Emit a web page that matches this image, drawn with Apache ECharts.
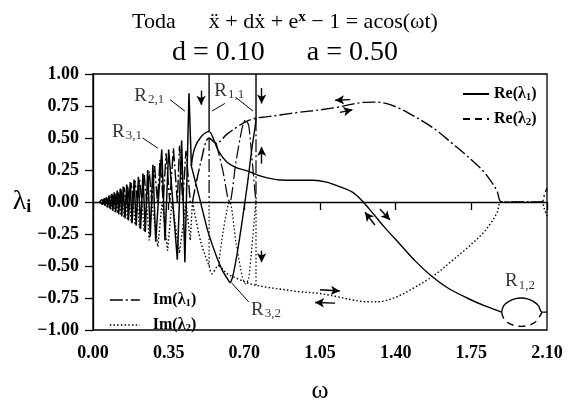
<!DOCTYPE html>
<html><head><meta charset="utf-8">
<script src="https://cdn.jsdelivr.net/npm/echarts@6/dist/echarts.min.js"></script>
<style>html,body{margin:0;padding:0;background:#fff}#c{width:570px;height:409px}</style>
</head><body><div id="c"></div>
<script>
// ---- data (omega, lambda) ----
const reDense = [[0.03,0],[0.038,0.012],[0.044,-0.018],[0.05,0.025],[0.056,-0.03],[0.062,0.038],[0.068,-0.043],[0.074,0.05],[0.08,-0.056],[0.086,0.063],[0.092,-0.069],[0.098,0.076],[0.105,-0.082],[0.112,0.09],[0.119,-0.097],[0.126,0.105],[0.133,-0.112],[0.14,0.12],[0.148,-0.128],[0.156,0.137],[0.164,-0.145],[0.172,0.155],[0.181,-0.165],[0.19,0.175],[0.2,-0.186],[0.21,0.197],[0.22,-0.21],[0.231,0.222],[0.242,-0.235],[0.253,0.25],[0.265,-0.27],[0.277,0.29],[0.29,-0.31],[0.318,0.41],[0.333,-0.3],[0.35,0.41],[0.39,-0.45],[0.41,0.48],[0.425,-0.47],[0.444,0.85],[0.455,0.28]];
const reMain = [[0.455,0.28],[0.47,0.42],[0.5,0.51],[0.537,0.55],[0.56,0.48],[0.58,0.4],[0.62,0.31],[0.66,0.27],[0.71,0.245],[0.78,0.2],[0.865,0.172],[0.95,0.17],[1.02,0.17],[1.08,0.155],[1.14,0.12],[1.2,0.077],[1.25,0.0],[1.3,-0.1],[1.35,-0.2],[1.42,-0.33],[1.49,-0.46],[1.56,-0.57],[1.64,-0.67],[1.73,-0.75],[1.81,-0.81],[1.89,-0.86]];
const reSpike1 = [[0.537,0.55],[0.537,1.0]];
const reBranch = [[0.455,0.28],[0.49,0.05],[0.53,-0.22],[0.57,-0.42],[0.6,-0.54],[0.622,-0.6],[0.634,-0.63],[0.645,-0.59],[0.665,-0.42],[0.69,-0.15],[0.715,0.15],[0.735,0.42],[0.754,0.66],[0.754,1.0]];
const reLoopUp = [[1.89,-0.86],[1.9,-0.81],[1.92,-0.78],[1.95,-0.757],[1.98,-0.75],[2.01,-0.757],[2.04,-0.78],[2.06,-0.81],[2.077,-0.86],[2.1,-0.86]];
const re2LoopLow = [[1.89,-0.86],[1.9,-0.91],[1.92,-0.945],[1.95,-0.965],[1.98,-0.972],[2.01,-0.965],[2.04,-0.945],[2.06,-0.91],[2.077,-0.86]];

const im1Dense = [[0.03,0],[0.041,0.02],[0.047,0],[0.053,0.03],[0.059,0],[0.065,0.04],[0.071,0],[0.077,0.05],[0.083,0],[0.089,0.06],[0.095,0],[0.101,0.07],[0.108,0],[0.115,0.085],[0.122,0],[0.129,0.1],[0.136,0],[0.144,0.115],[0.152,0],[0.16,0.13],[0.168,0],[0.177,0.15],[0.186,0],[0.195,0.165],[0.205,0],[0.215,0.185],[0.226,0],[0.237,0.21],[0.248,0],[0.26,0.24],[0.272,0],[0.285,0.28],[0.298,0],[0.31,0.33],[0.325,0],[0.338,0.38],[0.355,0],[0.372,0.42],[0.39,0],[0.4,0.44],[0.415,0],[0.43,0.4],[0.45,0]];
const im1Upper = [[0.46,0],[0.5,0.32],[0.537,0.5],[0.57,0.46],[0.62,0.53],[0.67,0.59],[0.71,0.63],[0.754,0.655],[0.8,0.665],[0.865,0.68],[0.95,0.7],[1.05,0.72],[1.13,0.74],[1.2,0.765],[1.25,0.778],[1.3,0.78],[1.35,0.772],[1.42,0.73],[1.48,0.675],[1.545,0.61],[1.6,0.545],[1.66,0.46],[1.72,0.375],[1.76,0.315],[1.8,0.25],[1.84,0.165],[1.87,0.08],[1.89,0],[2.077,0],[2.085,0.04],[2.1,0.11]];
const im1Vee = [[0.57,0.46],[0.6,0.25],[0.625,0.02],[0.634,0],[0.66,0.3],[0.69,0.58],[0.705,0.64],[0.72,0.6],[0.735,0.35],[0.748,0.1],[0.754,0]];
const im1Vert1 = [[0.537,0.5],[0.537,0]];
const im1Vert2 = [[0.754,0.655],[0.754,0]];

const im2Dense = [[0.03,0],[0.041,-0.02],[0.047,0],[0.053,-0.03],[0.059,0],[0.065,-0.04],[0.071,0],[0.077,-0.05],[0.083,0],[0.089,-0.06],[0.095,0],[0.101,-0.075],[0.108,0],[0.115,-0.09],[0.122,0],[0.129,-0.105],[0.136,0],[0.144,-0.12],[0.152,0],[0.16,-0.14],[0.168,0],[0.177,-0.16],[0.186,0],[0.195,-0.18],[0.205,0],[0.215,-0.2],[0.226,0],[0.237,-0.23],[0.248,0],[0.26,-0.3],[0.272,0],[0.3,-0.35],[0.32,0],[0.345,-0.38],[0.365,0],[0.4,-0.4],[0.43,0],[0.45,-0.3],[0.46,0]];
const im2Lower = [[0.46,0],[0.5,-0.32],[0.537,-0.5],[0.55,-0.56],[0.58,-0.5],[0.62,-0.56],[0.67,-0.6],[0.71,-0.63],[0.754,-0.65],[0.8,-0.665],[0.865,-0.68],[0.95,-0.7],[1.05,-0.715],[1.13,-0.74],[1.2,-0.765],[1.25,-0.778],[1.3,-0.78],[1.35,-0.772],[1.42,-0.73],[1.48,-0.675],[1.545,-0.61],[1.6,-0.545],[1.66,-0.46],[1.72,-0.375],[1.76,-0.315],[1.8,-0.25],[1.84,-0.165],[1.87,-0.08],[1.89,0],[2.077,0],[2.085,-0.04],[2.1,-0.11]];
const im2Vee = [[0.58,-0.5],[0.6,-0.25],[0.625,-0.02],[0.634,0],[0.66,-0.3],[0.69,-0.58],[0.705,-0.64],[0.72,-0.6],[0.735,-0.35],[0.748,-0.1],[0.754,0]];
const im2Vert1 = [[0.537,-0.5],[0.537,0]];
const im2Vert2 = [[0.754,-0.65],[0.754,0]];

// annotations
const arrows = [[0.5,0.87,0.5,0.76],[0.78,0.89,0.78,0.77],[0.78,0.30,0.78,0.43],[0.78,-0.38,0.78,-0.47],
  [1.19,0.80,1.12,0.795],[1.142,0.70,1.2,0.72],[1.05,-0.685,1.142,-0.695],[1.12,-0.79,1.027,-0.785],
  [1.304,-0.18,1.258,-0.08],[1.327,-0.055,1.374,-0.14]];
const leaders = [[0.23,0.5,0.30,0.42],[0.356,0.8,0.425,0.71],[0.61,0.77,0.55,0.71],[0.666,0.81,0.74,0.71],[0.64,-0.63,0.72,-0.78]];
const resLabels = [[0.157,0.55,'3,1'],[0.26,0.83,'2,1'],[0.63,0.87,'1,1'],[0.8,-0.84,'3,2'],[1.975,-0.62,'1,2']];
const xTicks = {min:0, max:2.1, step:0.35};
const yTicks = {min:-1, max:1, step:0.25};

const SERIF = 'Liberation Serif, DejaVu Serif, serif';
const DASHDOT = [13,3,2,3];
const DOT = [1.5,2.2];
const DASH = [7,5];

function ln(name, data, type, width, smooth){
  return {type:'line', name, data, symbol:'none', smooth: smooth||false, clip:true,
    lineStyle:{color:'#000', width: width||1.2, type}, itemStyle:{color:'#000'}, z:3};
}
const subRich = {
  a:{fontFamily:SERIF, fontSize:16, fontWeight:'bold', color:'#000'},
  s:{fontFamily:SERIF, fontSize:11, fontWeight:'bold', color:'#000', verticalAlign:'bottom', padding:[7,0,0,0]}
};

const series = [
  ln('Re(λ1)', reDense, 'solid', 1.5),
  ln('Re(λ1)', reMain, 'solid', 1.4, 0.35),
  ln('Re(λ1)', reSpike1, 'solid', 1.4),
  ln('Re(λ1)', reBranch, 'solid', 1.4, 0.2),
  ln('Re(λ1)', reLoopUp, 'solid', 1.4, 0.4),
  ln('Re(λ2)', re2LoopLow, DASH, 1.4, 0.4),
  ln('Im(λ1)', im1Dense, DASHDOT, 1.4),
  ln('Im(λ1)', im1Upper, DASHDOT, 1.4, 0.35),
  ln('Im(λ1)', im1Vee, DASHDOT, 1.2, 0.2),
  ln('Im(λ1)', im1Vert1, DASHDOT, 1.2),
  ln('Im(λ1)', im1Vert2, DASHDOT, 1.2),
  ln('Im(λ2)', im2Dense, DOT, 1.4),
  ln('Im(λ2)', im2Lower, DOT, 1.4, 0.35),
  ln('Im(λ2)', im2Vee, DOT, 1.2, 0.2),
  ln('Im(λ2)', im2Vert1, DOT, 1.2),
  ln('Im(λ2)', im2Vert2, DOT, 1.2),
  {type:'line', name:'_ann', data:[], symbol:'none', silent:true,
    markLine:{silent:true, symbol:['none','arrow'], symbolSize:[7,9], animation:false,
      lineStyle:{color:'#000', width:1.4, type:'solid'}, label:{show:false},
      data: arrows.map(a=>[{coord:[a[0],a[1]]},{coord:[a[2],a[3]]}])}},
  {type:'line', name:'_lead', data:[], symbol:'none', silent:true,
    markLine:{silent:true, symbol:['none','none'], animation:false,
      lineStyle:{color:'#000', width:1, type:'solid'}, label:{show:false},
      data: leaders.map(a=>[{coord:[a[0],a[1]]},{coord:[a[2],a[3]]}])}},
  {type:'scatter', name:'_lab', silent:true, symbolSize:1, itemStyle:{color:'rgba(0,0,0,0)'},
    data: resLabels.map(r=>({value:[r[0],r[1]], sub:r[2]})),
    label:{show:true, position:'inside', formatter:p=>'{r|R}{s|'+p.data.sub+'}',
      rich:{r:{fontFamily:SERIF, fontSize:19, color:'#000'},
            s:{fontFamily:SERIF, fontSize:13, color:'#000', verticalAlign:'bottom', padding:[8,0,0,1]}}}}
];

const legendFmt = n => { const m = n.match(/^(.*λ)(\d)\)$/); return '{a|'+m[1]+'}{s|'+m[2]+'}{a|)}'; };
const noSym = {color:'rgba(0,0,0,0)', borderColor:'rgba(0,0,0,0)', borderWidth:0};

const option = {
  animation:false,
  backgroundColor:'#fff',
  title:[
    {text:'{t|Toda      ẍ + dẋ + e}{p|x}{t| − 1 = acos(ωt)}', left:'center', top:5,
      textStyle:{rich:{t:{fontFamily:SERIF, fontSize:22, fontWeight:'normal', color:'#000'},
        p:{fontFamily:SERIF, fontSize:15, fontWeight:'bold', color:'#000', verticalAlign:'top', padding:[0,0,9,0]}}}},
    {text:'d = 0.10      a = 0.50', left:'center', top:34,
      textStyle:{fontFamily:SERIF, fontSize:28, fontWeight:'normal', color:'#000'}}
  ],
  legend:[
    {data:['Re(λ1)','Re(λ2)'], orient:'vertical', left:457, top:81, itemGap:8, itemWidth:26, itemHeight:16,
      formatter:legendFmt, textStyle:{rich:subRich}, itemStyle:noSym, selectedMode:false},
    {data:['Im(λ1)','Im(λ2)'], orient:'vertical', left:104, top:287, itemGap:8, itemWidth:30, itemHeight:16,
      formatter:legendFmt, textStyle:{rich:subRich, padding:[0,0,0,8]}, itemStyle:noSym,
      lineStyle:{width:1.6}, selectedMode:false}
  ],
  grid:{left:93, right:23, top:74, bottom:62, show:true, borderColor:'#000', borderWidth:1.3, backgroundColor:'transparent'},
  xAxis:{type:'value', min:xTicks.min, max:xTicks.max, interval:xTicks.step,
    name:'ω', nameLocation:'middle', nameGap:48, nameTextStyle:{fontFamily:SERIF, fontSize:26, color:'#000'},
    axisLine:{lineStyle:{color:'#000', width:1.3}}, axisTick:{show:true, inside:false, length:8, lineStyle:{color:'#000', width:1.3}},
    splitLine:{show:false},
    axisLabel:{margin:14, fontFamily:SERIF, fontSize:18, fontWeight:'bold', color:'#000', formatter:v=>v.toFixed(2)}},
  yAxis:{type:'value', min:yTicks.min, max:yTicks.max, interval:yTicks.step,
    name:'{a|λ}{b|i}', nameLocation:'middle', nameRotate:0, nameGap:60,
    nameTextStyle:{rich:{a:{fontFamily:SERIF, fontSize:28, color:'#000'}, b:{fontFamily:SERIF, fontSize:18, fontWeight:'bold', color:'#000', verticalAlign:'bottom', padding:[10,0,0,0]}}},
    axisLine:{show:true, lineStyle:{color:'#000', width:1.3}}, axisTick:{show:true, inside:false, length:8, lineStyle:{color:'#000', width:1.3}},
    splitLine:{show:false},
    axisLabel:{margin:14, fontFamily:SERIF, fontSize:18, fontWeight:'bold', color:'#000', formatter:v=>(v<0?'\u2212':'')+Math.abs(v).toFixed(2)}},
  series
};
const chart = echarts.init(document.getElementById('c'), null, {renderer:'canvas'});
chart.setOption(option);
</script></body></html>
